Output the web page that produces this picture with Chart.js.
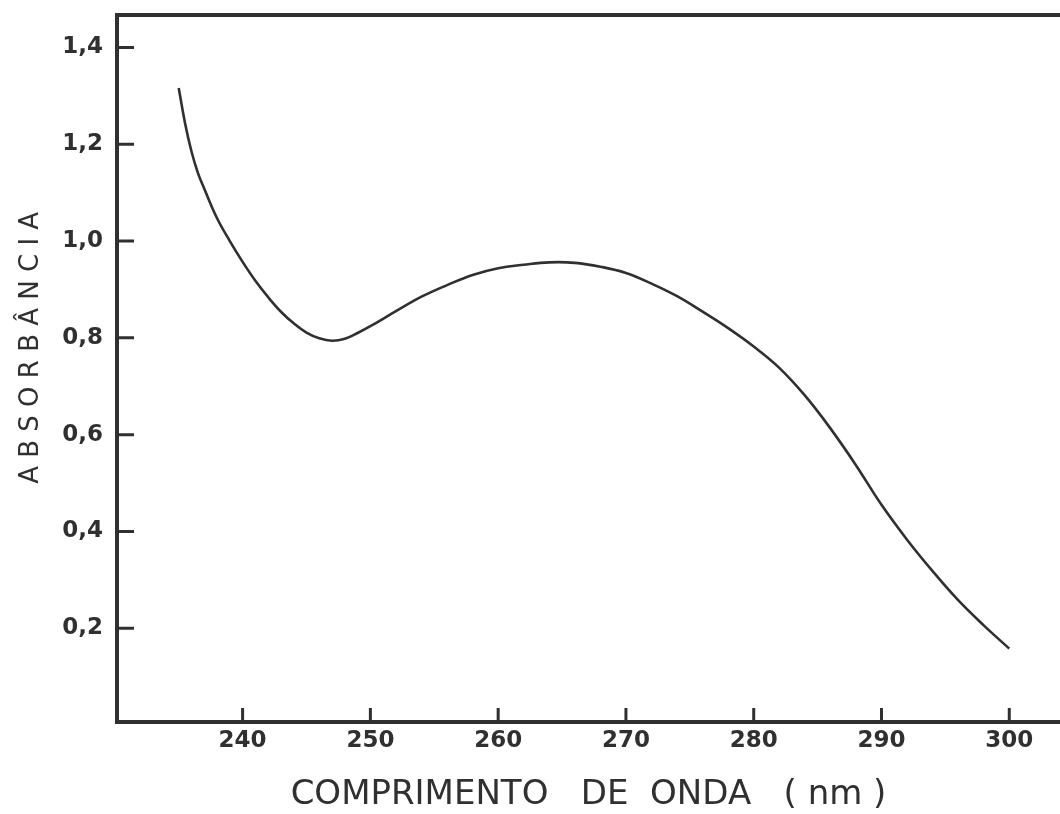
<!DOCTYPE html>
<html>
<head>
<meta charset="utf-8">
<script src="https://cdn.jsdelivr.net/npm/chart.js@4/dist/chart.umd.min.js"></script>
<style>
html, body { margin: 0; padding: 0; background: #fff; }
#wrap { width: 1060px; height: 814px; }
</style>
</head>
<body>
<div id="wrap"><canvas id="myChart"></canvas></div>
<script>
// values
const wavelength = [235, 235.5, 236, 236.5, 237, 238, 239, 240, 241, 242, 243, 244, 245, 246, 247, 248, 249, 250,
    252, 254, 256, 258, 260, 262, 264, 266, 268, 270, 272, 274, 276, 278, 280,
    282, 284, 286, 288, 290, 292, 294, 296, 298, 300];
const absorbance = [1.316, 1.243, 1.185, 1.141, 1.108, 1.047, 1.0, 0.957, 0.918, 0.884, 0.854, 0.830, 0.811, 0.799, 0.794, 0.798, 0.810, 0.824,
    0.855, 0.885, 0.909, 0.930, 0.944, 0.951, 0.956, 0.955, 0.947, 0.934, 0.912, 0.886, 0.854, 0.820, 0.782,
    0.738, 0.681, 0.613, 0.537, 0.455, 0.383, 0.318, 0.258, 0.206, 0.158];
const xTicks = [240, 250, 260, 270, 280, 290, 300];
const yTicks = [0.2, 0.4, 0.6, 0.8, 1.0, 1.2, 1.4];

const ink = '#303030';
const fontFam = "'DejaVu Sans', sans-serif";

// top frame line and inward tick marks
const frame = {
    id: 'frame',
    afterDraw(chart) {
        const { ctx, chartArea, scales } = chart;
        ctx.save();
        ctx.strokeStyle = ink;
        ctx.lineWidth = 4;
        ctx.beginPath();
        ctx.moveTo(chartArea.left - 2, chartArea.top);
        ctx.lineTo(chartArea.right, chartArea.top);
        ctx.stroke();
        ctx.lineWidth = 3;
        ctx.beginPath();
        xTicks.forEach(v => {
            const px = scales.x.getPixelForValue(v);
            ctx.moveTo(px, chartArea.bottom);
            ctx.lineTo(px, chartArea.bottom - 14);
        });
        yTicks.forEach(v => {
            const py = scales.y.getPixelForValue(v);
            ctx.moveTo(chartArea.left, py);
            ctx.lineTo(chartArea.left + 17, py);
        });
        ctx.stroke();
        ctx.restore();
    }
};

const ctx = document.getElementById('myChart').getContext('2d');
const myChart = new Chart(ctx, {
    type: 'line',
    data: {
        datasets: [{
            label: 'Absorbância',
            data: wavelength.map((w, i) => ({ x: w, y: absorbance[i] })),
            borderColor: ink,
            borderWidth: 2.6,
            pointRadius: 0,
            fill: false,
            tension: 0.4
        }]
    },
    options: {
        responsive: true,
        maintainAspectRatio: false,
        animation: false,
        layout: { padding: { top: 15, right: 0, bottom: 0, left: 0 } },
        plugins: {
            legend: { display: false },
            tooltip: { enabled: false }
        },
        scales: {
            x: {
                type: 'linear',
                min: 230.17,
                max: 303.97,
                afterBuildTicks: s => { s.ticks = xTicks.map(v => ({ value: v })); },
                afterFit: s => { s.height = 92; s.paddingLeft = 0; s.paddingRight = 0; },
                grid: { display: false, drawTicks: false },
                border: { display: true, color: ink, width: 4 },
                ticks: {
                    color: ink,
                    padding: 5,
                    maxRotation: 0,
                    autoSkip: false,
                    font: { family: fontFam, size: 23, weight: 'bold' }
                },
                title: {
                    display: true,
                    text: 'COMPRIMENTO   DE  ONDA   ( nm )',
                    color: ink,
                    padding: { top: 0, bottom: 0 },
                    font: { family: fontFam, size: 34, lineHeight: 1.1 }
                }
            },
            y: {
                type: 'linear',
                min: 0.0064,
                max: 1.467,
                afterBuildTicks: s => { s.ticks = yTicks.map(v => ({ value: v })); },
                afterFit: s => { s.width = 117; s.paddingTop = 0; s.paddingBottom = 0; },
                grid: { display: false, drawTicks: false },
                border: { display: true, color: ink, width: 4 },
                ticks: {
                    color: ink,
                    padding: 14,
                    font: { family: fontFam, size: 23, weight: 'bold' },
                    callback: v => v.toFixed(1).replace('.', ',')
                },
                title: {
                    display: true,
                    text: '     A B S O R B Â N C I A',
                    color: ink,
                    padding: { top: 16, bottom: 0 },
                    font: { family: fontFam, size: 26 }
                }
            }
        }
    },
    plugins: [frame]
});
</script>
</body>
</html>
